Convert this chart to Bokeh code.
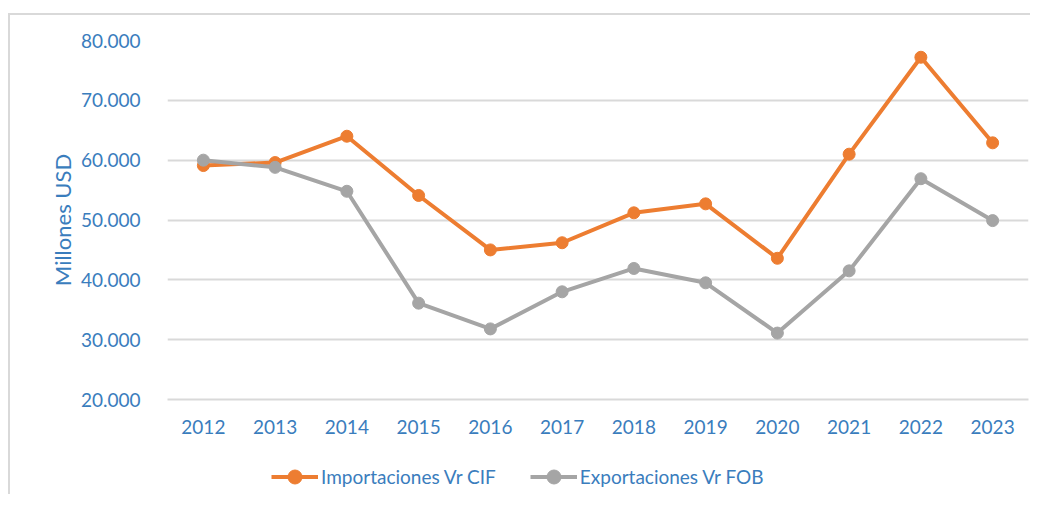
from bokeh.plotting import figure
from bokeh.layouts import column
from bokeh.models import FactorRange, Range1d, FixedTicker, Legend, LegendItem
from bokeh.embed import file_html
from bokeh.resources import INLINE

years = ["2012", "2013", "2014", "2015", "2016", "2017",
         "2018", "2019", "2020", "2021", "2022", "2023"]
importaciones = [59100, 59600, 64000, 54100, 45000, 46200,
                 51200, 52700, 43600, 61000, 77200, 62900]
exportaciones = [60000, 58800, 54800, 36100, 31800, 38000,
                 41900, 39500, 31100, 41500, 56900, 49900]
y_ticks = [20000, 30000, 40000, 50000, 60000, 70000, 80000]
y_tick_labels = ["20.000", "30.000", "40.000", "50.000", "60.000", "70.000", "80.000"]
series_names = ["Importaciones Vr CIF", "Exportaciones Vr FOB"]

BLUE = "#3a7dbd"
ORANGE = "#ed7d31"
GRAY = "#a5a5a5"
GRID = "#d9d9d9"
FONT = "Lato"

x_range = FactorRange(*years, range_padding=0)

p = figure(x_range=x_range,
           y_range=Range1d(20000, 80000),
           width=1020, height=429,
           output_backend="svg", toolbar_location=None,
           min_border_left=157, min_border_right=2,
           min_border_top=25, min_border_bottom=45)
p.outline_line_color = None
p.background_fill_color = "white"
p.border_fill_color = "white"

p.xgrid.grid_line_color = None
p.ygrid.grid_line_color = GRID
p.ygrid.grid_line_width = 2
p.yaxis.ticker = FixedTicker(ticks=y_ticks)
p.yaxis.major_label_overrides = {t: l for t, l in zip(y_ticks, y_tick_labels)}

for ax in (p.xaxis, p.yaxis):
    ax.major_tick_line_color = None
    ax.minor_tick_line_color = None
    ax.major_label_text_color = BLUE
    ax.major_label_text_font = FONT
    ax.major_label_text_font_size = "19px"
    ax.axis_label_text_color = BLUE
    ax.axis_label_text_font = FONT
    ax.axis_label_text_font_style = "normal"

p.yaxis.axis_line_color = None
p.yaxis.major_label_standoff = 21
p.yaxis.axis_label = "Millones USD"
p.yaxis.axis_label_text_font_size = "22px"
p.yaxis.axis_label_standoff = 2

p.xaxis.axis_line_color = GRID
p.xaxis.axis_line_width = 2
p.xaxis.major_label_standoff = 14

p.line(years, importaciones, line_color=ORANGE, line_width=4)
p.scatter(years, importaciones, size=12, fill_color=ORANGE, line_color=ORANGE)
p.line(years, exportaciones, line_color=GRAY, line_width=4)
p.scatter(years, exportaciones, size=12, fill_color=GRAY, line_color=GRAY)

# legend strip below the chart (same series, plotted outside its visible range)
p2 = figure(x_range=x_range, y_range=Range1d(0, 1),
            width=1020, height=50, output_backend="svg", toolbar_location=None,
            x_axis_location=None, y_axis_location=None,
            min_border=0)
p2.outline_line_color = None
p2.grid.grid_line_color = None
p2.border_fill_color = "white"
p2.background_fill_color = "white"
l1 = p2.line(years, importaciones, line_color=ORANGE, line_width=4)
m1 = p2.scatter(years, importaciones, size=12, fill_color=ORANGE, line_color=ORANGE)
l2 = p2.line(years, exportaciones, line_color=GRAY, line_width=4)
m2 = p2.scatter(years, exportaciones, size=12, fill_color=GRAY, line_color=GRAY)

legend = Legend(items=[LegendItem(label=series_names[0], renderers=[l1, m1]),
                       LegendItem(label=series_names[1], renderers=[l2, m2])],
                orientation="horizontal", location=(104, 0),
                glyph_width=47, glyph_height=35, label_standoff=3, spacing=34,
                padding=0, margin=0, border_line_color=None,
                background_fill_alpha=0,
                label_text_color=BLUE, label_text_font=FONT,
                label_text_font_size="19px")
p2.add_layout(legend, "center")

layout = column(p, p2, spacing=0, margin=(13, 0, 0, 8),
                styles={"border-left": "2px solid #d9d9d9",
                        "border-top": "2px solid #d9d9d9"})

open("out.html", "w").write(file_html(layout, INLINE))
